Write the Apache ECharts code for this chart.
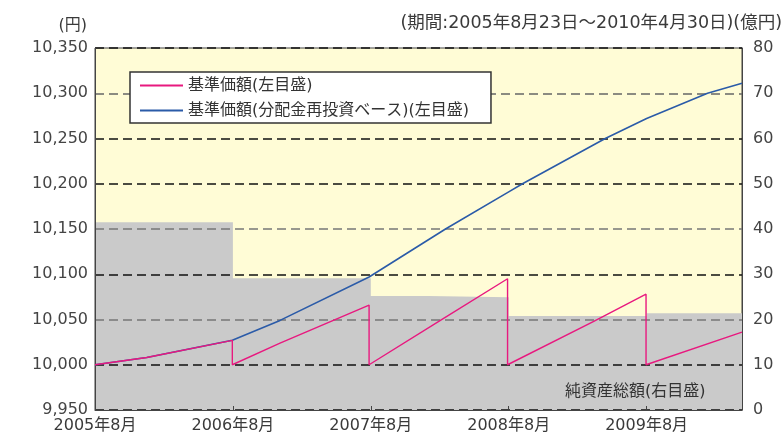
<!DOCTYPE html>
<html>
<head>
<meta charset="utf-8">
<script src="https://cdn.jsdelivr.net/npm/echarts@6/dist/echarts.min.js"></script>
<style>
html,body{margin:0;padding:0;background:#fff;}
#chart{width:784px;height:441px;}
</style>
</head>
<body>
<div id="chart"></div>
<script>
// x values: months elapsed since 2005-08-23
const xTickLabels = ['2005年8月', '2006年8月', '2007年8月', '2008年8月', '2009年8月'];
const leftTicks = [9950, 10000, 10050, 10100, 10150, 10200, 10250, 10300, 10350];
const rightTicks = [0, 10, 20, 30, 40, 50, 60, 70, 80];

// 基準価額 (left axis, yen)
const navMonths = [0, 4.5, 11.95, 11.95, 16.1, 23.85, 23.85, 30.3, 35.9, 35.9, 43.4, 47.95, 47.95, 56.3];
const navValues = [10000, 10008, 10027, 10000, 10024, 10066, 10000, 10051, 10095, 10000, 10048, 10078, 10000, 10036];

// 基準価額(分配金再投資ベース) (left axis, yen)
const reinvMonths = [0, 4.5, 11.95, 16.1, 23.85, 30.5, 36, 37.2, 44.4, 48, 53.3, 56.3];
const reinvValues = [10000, 10008, 10027, 10049, 10097, 10150, 10191, 10200, 10250, 10272, 10300, 10311];

// 純資産総額 (right axis, 億円)
const assetMonths = [0, 12, 24, 29, 36, 48, 56.3];
const assetValues = [41.5, 29.1, 25.2, 24.9, 20.8, 21.4, 21.4];

const seriesNames = ['基準価額(左目盛)', '基準価額(分配金再投資ベース)(左目盛)', '純資産総額(右目盛)'];

const FONT = '"DejaVu Sans", "Noto Sans CJK JP", sans-serif';
const zip = (a, b) => a.map((v, i) => [v, b[i]]);

const chart = echarts.init(document.getElementById('chart'), null, {renderer: 'canvas'});
chart.setOption({
  animation: false,
  backgroundColor: '#ffffff',
  textStyle: {fontFamily: FONT},
  grid: {
    left: 95, right: 42, top: 48, bottom: 31,
    show: true, backgroundColor: '#fffcd6', borderColor: '#444', borderWidth: 1
  },
  legend: {
    orient: 'vertical',
    left: 130, top: 72,
    padding: [5, 22, 4, 10],
    itemGap: 8,
    itemWidth: 43, itemHeight: 2,
    backgroundColor: '#ffffff',
    borderColor: '#333', borderWidth: 1.5,
    textStyle: {fontFamily: FONT, fontSize: 16, color: '#333', lineHeight: 17},
    data: [
      {name: seriesNames[0], icon: 'rect'},
      {name: seriesNames[1], icon: 'rect'}
    ]
  },
  xAxis: {
    type: 'value', min: 0, max: 56.3, interval: 12,
    z: 2,
    axisLine: {show: true, lineStyle: {color: '#444', width: 1}},
    axisTick: {show: true, inside: true, length: 4, lineStyle: {color: '#444'}},
    splitLine: {show: false},
    axisLabel: {
      margin: 8, fontSize: 16, color: '#3a3a3a', fontFamily: FONT,
      formatter: v => (Math.abs(v % 12) < 1e-9 ? xTickLabels[Math.round(v / 12)] : '')
    }
  },
  yAxis: [
    {
      type: 'value', min: leftTicks[0], max: leftTicks[leftTicks.length - 1], interval: 50,
      position: 'left', z: 2,
      axisLine: {show: true, lineStyle: {color: '#444', width: 1}},
      axisTick: {show: false},
      axisLabel: {
        margin: 7, fontSize: 16, color: '#444', fontFamily: FONT,
        formatter: v => v.toLocaleString('en-US')
      },
      splitLine: {
        show: true,
        lineStyle: {
          color: ['#111', '#111', '#777', '#111', '#777', '#111', '#111', '#666', '#111'],
          width: 1.5, type: [9, 5]
        }
      }
    },
    {
      type: 'value', min: rightTicks[0], max: rightTicks[rightTicks.length - 1], interval: 10,
      position: 'right', z: 2,
      axisLine: {show: true, lineStyle: {color: '#444', width: 1}},
      axisTick: {show: false},
      axisLabel: {margin: 11, fontSize: 16, color: '#444', fontFamily: FONT},
      splitLine: {show: false}
    }
  ],
  series: [
    {
      name: seriesNames[2], type: 'line', yAxisIndex: 1, step: 'end',
      z: 1, symbol: 'none', silent: true,
      lineStyle: {width: 0, color: '#cacaca'},
      itemStyle: {color: '#cacaca'},
      areaStyle: {color: '#cacaca', opacity: 1},
      data: zip(assetMonths, assetValues)
    },
    {
      name: seriesNames[1], type: 'line', yAxisIndex: 0, z: 3,
      symbol: 'none', smooth: false,
      lineStyle: {width: 1.6, color: '#2b5ba8'},
      itemStyle: {color: '#2b5ba8'},
      data: zip(reinvMonths, reinvValues)
    },
    {
      name: seriesNames[0], type: 'line', yAxisIndex: 0, z: 4,
      symbol: 'none', smooth: false,
      lineStyle: {width: 1.4, color: '#e8197f'},
      itemStyle: {color: '#e8197f'},
      data: zip(navMonths, navValues)
    }
  ],
  graphic: [
    {type: 'text', right: 697, top: 18, style: {text: '(円)', font: '16px ' + FONT, fill: '#3a3a3a'}},
    {type: 'text', right: 2, top: 15, style: {text: '(期間:2005年8月23日～2010年4月30日)(億円)', font: '17.5px ' + FONT, fill: '#3a3a3a'}},
    {type: 'text', left: 565, top: 384, z: 10, style: {text: '純資産総額(右目盛)', font: '16px ' + FONT, fill: '#333'}}
  ]
});
</script>
</body>
</html>
